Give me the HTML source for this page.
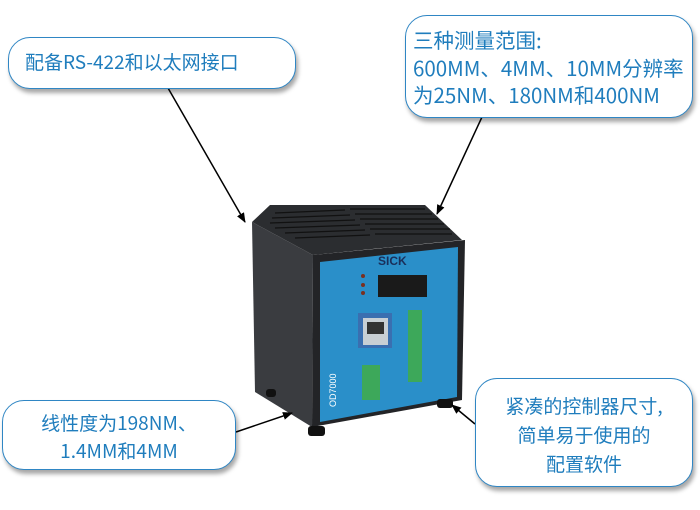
<!DOCTYPE html>
<html><head><meta charset="utf-8"><style>
body{margin:0;width:700px;height:510px;background:#fff;overflow:hidden;position:relative;font-family:"Noto Sans CJK SC","Liberation Sans",sans-serif}
.b{position:absolute;border:1.5px solid #2f86c4;border-radius:22px;background:#fff;box-shadow:2px 4px 4px rgba(0,0,0,.35);color:#1f7dbd;font-size:19px;box-sizing:border-box;white-space:nowrap}
</style></head><body>
<svg width="700" height="510" style="position:absolute;left:0;top:0">
<defs><marker id="a" markerWidth="10" markerHeight="8" refX="9" refY="4" orient="auto" markerUnits="userSpaceOnUse"><path d="M0,0L10,4L0,8z" fill="#000"/></marker></defs>
<polygon points="252,222 270,205 425,205 462,240 313,255" fill="#2b2d30"/>
<g stroke="#111" stroke-width="1.2">
<line x1="275" y1="213" x2="345" y2="210"/><line x1="272" y1="218" x2="350" y2="215"/><line x1="270" y1="223" x2="355" y2="220"/><line x1="275" y1="228" x2="360" y2="225"/><line x1="285" y1="233" x2="365" y2="230"/><line x1="295" y1="238" x2="370" y2="235"/>
<line x1="350" y1="209" x2="425" y2="209"/><line x1="355" y1="214" x2="432" y2="214"/><line x1="360" y1="219" x2="438" y2="219"/><line x1="365" y1="224" x2="444" y2="224"/><line x1="370" y1="229" x2="450" y2="229"/><line x1="375" y1="234" x2="452" y2="234"/>
</g>
<polygon points="252,222 313,255 312,427 255,392" fill="#3a3c40"/>
<polygon points="313,255 465,240 462,400 312,427" fill="#232427"/>
<polygon points="320,262 458,247 457,397 320,422" fill="#2a8fc9"/>
<text x="378" y="265" font-size="12" font-weight="bold" fill="#1a2f5a" font-family="Liberation Sans">SICK</text>
<rect x="378" y="275" width="49" height="22" fill="#1a1a1a"/>
<rect x="358" y="313" width="34" height="35" fill="#3a6fb0"/><rect x="363" y="318" width="25" height="27" fill="#c8cfd4"/><rect x="367" y="322" width="17" height="12" fill="#333"/>
<rect x="408" y="310" width="14" height="72" fill="#3da85a"/>
<rect x="362" y="365" width="18" height="35" fill="#3da85a"/>
<circle cx="363" cy="276" r="2" fill="#7a3020"/><circle cx="363" cy="285" r="2" fill="#7a3020"/><circle cx="363" cy="293" r="2" fill="#7a3020"/>
<text x="336" y="407" font-size="9" fill="#fff" font-family="Liberation Sans" transform="rotate(-90 336 407)">OD7000</text>
<rect x="308" y="426" width="17" height="10" rx="3" fill="#111"/><rect x="437" y="399" width="16" height="9" rx="3" fill="#111"/><rect x="266" y="389" width="10" height="8" rx="3" fill="#111"/>
<g stroke="#000" stroke-width="1.5" marker-end="url(#a)">
<line x1="168" y1="88" x2="245" y2="222"/>
<line x1="482" y1="117" x2="437" y2="214"/>
<line x1="236" y1="432" x2="292" y2="413"/>
<line x1="475" y1="424" x2="452" y2="405"/>
</g>
</svg>
<div class="b" style="left:8px;top:37px;width:288px;height:52px;padding:10px 0 0 16px;line-height:28px">配备RS-422和以太网接口</div>
<div class="b" style="left:405px;top:15px;width:288px;height:103px;padding:10px 0 0 7px;line-height:27.5px;font-size:20.5px">三种测量范围:<br>600MM、4MM、10MM分辨率<br>为25NM、180NM和400NM</div>
<div class="b" style="left:2px;top:400px;width:234px;height:70px;padding:8px 0 0 0;text-align:center;line-height:28px">线性度为198NM、<br>1.4MM和4MM</div>
<div class="b" style="left:475px;top:378px;width:218px;height:109px;padding:12px 0 0 0;text-align:center;line-height:29px">紧凑的控制器尺寸,<br>简单易于使用的<br>配置软件</div>
</body></html>
